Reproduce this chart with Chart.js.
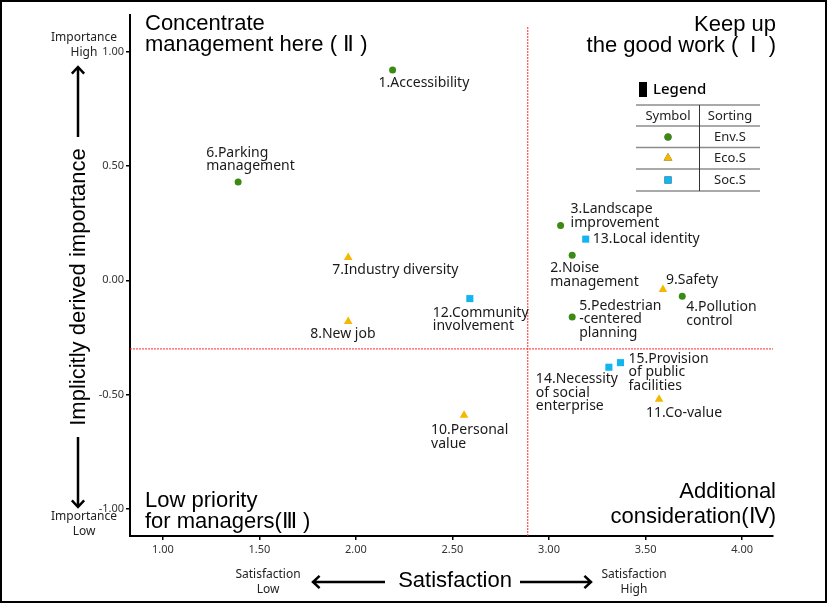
<!DOCTYPE html>
<html>
<head>
<meta charset="utf-8">
<script src="https://cdn.jsdelivr.net/npm/chart.js@4.4.1/dist/chart.umd.min.js"></script>
<style>
html, body { margin: 0; padding: 0; background: #fff; }
canvas { display: block; }
</style>
</head>
<body>
<canvas id="myChart" width="827" height="603"></canvas>
<script>
// Env.S items (circles)
var envLabels = [['1.Accessibility'], ['2.Noise', 'management'], ['3.Landscape', 'improvement'], ['4.Pollution', 'control'], ['5.Pedestrian', '-centered', 'planning'], ['6.Parking', 'management']];
var envX = [2.19, 3.12, 3.06, 3.69, 3.12, 1.39];
var envY = [0.92, 0.11, 0.24, -0.07, -0.16, 0.43];

// Eco.S items (triangles)
var ecoLabels = [['7.Industry diversity'], ['8.New job'], ['9.Safety'], ['10.Personal', 'value'], ['11.Co-value']];
var ecoX = [1.96, 1.96, 3.59, 2.56, 3.57];
var ecoY = [0.10, -0.18, -0.04, -0.59, -0.52];

// Soc.S items (squares)
var socLabels = [['12.Community', 'involvement'], ['13.Local identity'], ['14.Necessity', 'of social', 'enterprise'], ['15.Provision', 'of public', 'facilities']];
var socX = [2.59, 3.19, 3.31, 3.37];
var socY = [-0.08, 0.18, -0.38, -0.36];

var xTicks = [1.0, 1.5, 2.0, 2.5, 3.0, 3.5, 4.0];
var yTicks = [-1.0, -0.5, 0.0, 0.5, 1.0];
var xRange = [0.83, 4.16];
var yRange = [-1.118, 1.16];

// mean lines splitting the quadrants
var meanX = 2.89;
var meanY = -0.30;
var meanXTop = 1.11;

// label placement (pixels from the point to the first line, left edge / middle)
var labelOffset = {
    1: [-14, 13], 2: [-22, 13], 3: [10, -16], 4: [4, 11], 5: [7, -11], 6: [-32, -29],
    7: [-16, 13], 8: [-38, 13], 9: [3, -9], 10: [-33, 15], 11: [-13, 14],
    12: [-37, 14], 13: [7, 0], 14: [-73, 12], 15: [8, -4]
};

function toPoints(xs, ys) {
    return xs.map(function (x, i) { return { x: x, y: ys[i] }; });
}

var labelFont = '14px "Noto Sans"';
var bigFont = '22px "Liberation Sans"';

function drawLines(ctx, lines, x, y, lh, align) {
    ctx.textAlign = align;
    ctx.textBaseline = 'middle';
    lines.forEach(function (t, i) { ctx.fillText(t, x, y + i * lh); });
}

function arrow(ctx, x1, y1, x2, y2) {
    var ang = Math.atan2(y2 - y1, x2 - x1);
    var h = 9;
    ctx.beginPath();
    ctx.moveTo(x1, y1);
    ctx.lineTo(x2, y2);
    ctx.moveTo(x2 - h * Math.cos(ang - 0.75), y2 - h * Math.sin(ang - 0.75));
    ctx.lineTo(x2, y2);
    ctx.lineTo(x2 - h * Math.cos(ang + 0.75), y2 - h * Math.sin(ang + 0.75));
    ctx.stroke();
}

var extras = {
    id: 'extras',
    beforeDraw: function (chart) {
        var ctx = chart.ctx;
        ctx.save();
        ctx.fillStyle = '#fff';
        ctx.fillRect(0, 0, chart.width, chart.height);
        ctx.restore();
    },
    afterDraw: function (chart) {
        var ctx = chart.ctx;
        ctx.save();

        // point labels
        ctx.fillStyle = '#1a1a1a';
        ctx.font = labelFont;
        var groups = [envLabels, ecoLabels, socLabels];
        groups.forEach(function (labels, d) {
            var meta = chart.getDatasetMeta(d);
            labels.forEach(function (lines, i) {
                var el = meta.data[i];
                var num = parseInt(lines[0], 10);
                var off = labelOffset[num];
                drawLines(ctx, lines, el.x + off[0], el.y + off[1], 13.5, 'left');
            });
        });

        // quadrant names
        ctx.fillStyle = '#000';
        ctx.font = bigFont;
        drawLines(ctx, ['Concentrate', 'management here ( \u2161 )'], 145, 24, 21, 'left');
        drawLines(ctx, ['Keep up', 'the good work (  \u2160  )'], 776, 25, 21, 'right');
        drawLines(ctx, ['Low priority', 'for managers(\u2162 )'], 145, 501, 21, 'left');
        drawLines(ctx, ['Additional', 'consideration(\u2163)'], 776, 492, 25, 'right');

        // axis titles
        ctx.textAlign = 'center';
        ctx.fillText('Satisfaction', 455, 581);
        ctx.save();
        ctx.translate(79, 287);
        ctx.rotate(-Math.PI / 2);
        ctx.fillText('Implicitly derived importance', 0, 0);
        ctx.restore();

        ctx.strokeStyle = '#000';
        ctx.lineWidth = 2.5;
        arrow(ctx, 78, 137, 78, 67);
        arrow(ctx, 78, 437, 78, 507);
        arrow(ctx, 385, 582, 313, 582);
        arrow(ctx, 520, 582, 591, 582);

        ctx.fillStyle = '#222';
        ctx.font = '12px "Noto Sans"';
        drawLines(ctx, ['Importance', 'High'], 84, 38, 15, 'center');
        drawLines(ctx, ['Importance', 'Low'], 84, 517, 15, 'center');
        drawLines(ctx, ['Satisfaction', 'Low'], 268, 575, 15, 'center');
        drawLines(ctx, ['Satisfaction', 'High'], 634, 575, 15, 'center');

        // legend box
        ctx.fillStyle = '#000';
        ctx.fillRect(639, 82, 8, 15);
        ctx.font = '500 15px "Noto Sans"';
        ctx.textAlign = 'left';
        ctx.fillText('Legend', 653, 90);

        ctx.strokeStyle = '#8c8c8c';
        ctx.lineWidth = 1.5;
        [105, 126, 147.5, 169, 191].forEach(function (y) {
            ctx.beginPath();
            ctx.moveTo(636, y);
            ctx.lineTo(760, y);
            ctx.stroke();
        });
        ctx.strokeStyle = '#333';
        ctx.lineWidth = 1;
        ctx.beginPath();
        ctx.moveTo(699.5, 105);
        ctx.lineTo(699.5, 191);
        ctx.stroke();

        ctx.fillStyle = '#222';
        ctx.font = '13px "Noto Sans"';
        ctx.textAlign = 'center';
        ctx.fillText('Symbol', 668, 116);
        ctx.fillText('Sorting', 730, 116);
        var rows = ['Env.S', 'Eco.S', 'Soc.S'];
        var rowY = [137, 158, 180];
        rows.forEach(function (name, i) {
            var ds = chart.data.datasets[i];
            ctx.fillStyle = '#222';
            ctx.fillText(name, 730, rowY[i]);
            Chart.helpers.drawPoint(ctx, {
                pointStyle: ds.pointStyle,
                radius: ds.pointRadius,
                rotation: 0,
                borderWidth: 0
            }, 668, rowY[i]);
            ctx.fillStyle = ds.backgroundColor;
            ctx.fill();
        });

        // outer frame
        ctx.strokeStyle = '#000';
        ctx.lineWidth = 2;
        ctx.strokeRect(1, 1, chart.width - 2, chart.height - 2);
        ctx.restore();
    }
};

var ctx = document.getElementById('myChart');
var myChart = new Chart(ctx, {
    type: 'scatter',
    data: {
        datasets: [{
            label: 'Env.S',
            data: toPoints(envX, envY),
            pointStyle: 'circle',
            pointRadius: 3.5,
            backgroundColor: '#3a8a14',
            borderWidth: 0
        }, {
            label: 'Eco.S',
            data: toPoints(ecoX, ecoY),
            pointStyle: 'triangle',
            pointRadius: 5,
            backgroundColor: '#f5b800',
            borderWidth: 0
        }, {
            label: 'Soc.S',
            data: toPoints(socX, socY),
            pointStyle: 'rect',
            pointRadius: 5,
            backgroundColor: '#14b4f0',
            borderWidth: 0
        }, {
            type: 'line',
            label: 'meanX',
            data: [{ x: meanX, y: yRange[0] }, { x: meanX, y: meanXTop }],
            borderColor: '#ff2a2a',
            borderWidth: 1,
            borderDash: [2, 1],
            pointRadius: 0
        }, {
            type: 'line',
            label: 'meanY',
            data: [{ x: xRange[0], y: meanY }, { x: xRange[1], y: meanY }],
            borderColor: '#ff2a2a',
            borderWidth: 1,
            borderDash: [2, 1],
            pointRadius: 0
        }]
    },
    options: {
        responsive: false,
        animation: false,
        layout: { padding: { top: 15, right: 54, left: 0, bottom: 0 } },
        plugins: {
            legend: { display: false },
            tooltip: { enabled: false }
        },
        scales: {
            x: {
                type: 'linear',
                min: xRange[0],
                max: xRange[1],
                afterBuildTicks: function (scale) {
                    scale.ticks = xTicks.map(function (v) { return { value: v }; });
                },
                afterFit: function (scale) { scale.height = 67; },
                grid: { drawOnChartArea: false, drawTicks: true, tickLength: 4, color: '#000', lineWidth: 1.5 },
                border: { display: true, color: '#000', width: 2 },
                ticks: {
                    padding: 3,
                    color: '#333',
                    font: { family: 'Noto Sans', size: 11 },
                    callback: function (v) { return v.toFixed(2); }
                }
            },
            y: {
                type: 'linear',
                min: yRange[0],
                max: yRange[1],
                afterBuildTicks: function (scale) {
                    scale.ticks = yTicks.map(function (v) { return { value: v }; });
                },
                afterFit: function (scale) { scale.width = 130; },
                grid: { drawOnChartArea: false, drawTicks: true, tickLength: 4, color: '#000', lineWidth: 1.5 },
                border: { display: true, color: '#000', width: 2 },
                ticks: {
                    padding: 2,
                    color: '#333',
                    font: { family: 'Noto Sans', size: 11 },
                    callback: function (v) { return v.toFixed(2); }
                }
            }
        }
    },
    plugins: [extras]
});
</script>
</body>
</html>
